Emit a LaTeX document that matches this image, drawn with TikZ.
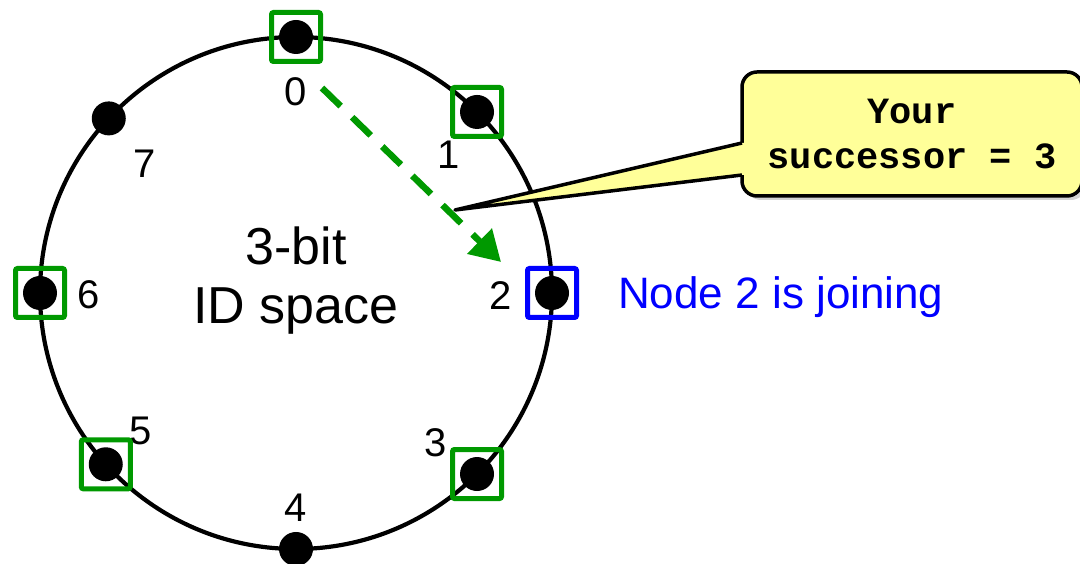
\documentclass[tikz,border=0pt]{standalone}
\usepackage{fontspec}
\setmainfont{Liberation Sans}
\newfontfamily\codefont{Liberation Mono}
\usetikzlibrary{arrows.meta,positioning,calc,shadows}
\definecolor{ringgreen}{RGB}{0,153,0}
\definecolor{callyellow}{RGB}{255,255,153}
\begin{document}
\begin{tikzpicture}[x=1pt,y=1pt,>={Triangle[length=30pt,width=34pt]},
  dot/.style={circle,fill=black,inner sep=0pt,minimum size=34pt},
  idbox/.style={draw=#1,line width=5pt,rounded corners=2pt,minimum size=49pt,inner sep=0pt},
  lbl/.style={inner sep=0pt,font=\fontsize{40}{48}\selectfont}]
\useasboundingbox (0,0) rectangle (1080,564);
% vòng định danh 3 bit
\coordinate (O) at (296,271);
\draw[line width=4.2pt] (O) circle (256);
\foreach \i/\a/\dx/\dy in {0/90/0/-55, 1/45/-28/-43, 2/0/-51/-3, 3/-45/-41/31,
  4/-90/0/41, 5/-138/35/33, 6/180/49/-2, 7/137/36/-45}
{
  \node[dot] (n\i) at ($(O)+(\a:256)$) {};
  \node[lbl] (l\i) at ($(n\i)+(\dx,\dy)$) {\i};
}
% các nút đã có trong vòng
\foreach \i in {0,1,3,5,6}
  \node[idbox=ringgreen] (s\i) at (n\i) {};
\node[idbox=blue] (s2) at (n2) {};
\node[align=center,inner sep=0pt,font=\fontsize{52}{59}\selectfont] (idsp) at (296,283) {3-bit\\ID space};
\node[right=39pt of s2,yshift=-4pt,inner sep=0pt,text=blue,font=\fontsize{44}{50}\selectfont] (join) {Node 2 is joining};
% mũi tên tìm successor
\coordinate (ast) at (322,476);
\coordinate (aend) at (501,302);
\draw[->,ringgreen,line width=6.5pt,dash pattern=on 26pt off 16pt] (ast) -- (aend);
% khung chú thích
\node[draw,line width=3.5pt,fill=callyellow,rounded corners=15pt,minimum width=340pt,minimum height=124pt,
  align=center,font=\codefont\bfseries\fontsize{37}{45}\selectfont,
  drop shadow={shadow xshift=4pt,shadow yshift=-4pt,opacity=.35}] (cb) at (912,430) {Your\\successor = 3};
\coordinate (tip) at (455,354);
\coordinate (p1) at ($(cb.west)+(1.75,-9)$);
\coordinate (p2) at ($(cb.west)+(1.75,-41)$);
\fill[black,opacity=.3,shift={(4,-4)}] (tip) -- (p1) -- (p2) -- cycle;
\fill[callyellow] (tip) -- (p1) -- ($(p1)+(8,0)$) -- ($(p2)+(8,0)$) -- (p2) -- cycle;
\draw[line width=3.5pt,line join=round] (p1) -- (tip) -- (p2);
\end{tikzpicture}
\end{document}
